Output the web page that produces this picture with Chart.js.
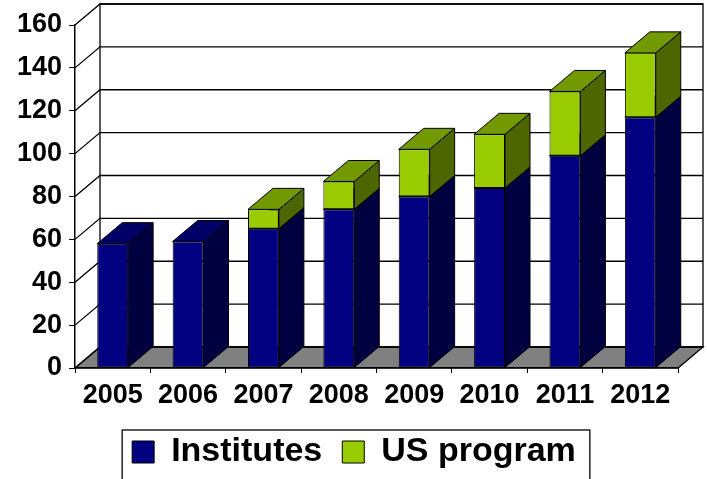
<!DOCTYPE html>
<html lang="en">
<head>
  <meta charset="UTF-8">
  <style>
    body {
      margin: 0;
      background-color: #fff;
    }
    .chart-container {
      width: 707px;
      height: 479px;
    }
  </style>
</head>
<body>
  <div class="chart-container">
    <canvas id="myChart"></canvas>
  </div>

  <script src="https://cdn.jsdelivr.net/npm/chart.js"></script>
  <script>
    // Data
    const years = ["2005", "2006", "2007", "2008", "2009", "2010", "2011", "2012"];
    const institutes = [58, 59, 65, 74, 80, 84, 99, 117];
    const usProgram = [0, 0, 9, 13, 22, 25, 30, 30];
    const yTicks = [0, 20, 40, 60, 80, 100, 120, 140, 160];

    // 3D look: depth offset of the box and darker shades for side / top faces
    const DX = 25;
    const DY = -21;
    const shades = [
      { front: '#000080', side: '#000040', top: '#000066' },
      { front: '#99cc00', side: '#4d6600', top: '#739900' }
    ];

    function poly(ctx, pts, fill) {
      ctx.beginPath();
      ctx.moveTo(pts[0][0], pts[0][1]);
      for (let i = 1; i < pts.length; i++) ctx.lineTo(pts[i][0], pts[i][1]);
      ctx.closePath();
      if (fill) {
        ctx.fillStyle = fill;
        ctx.fill();
      }
      ctx.stroke();
    }

    // walls, floor and grid drawn behind everything
    const wallsPlugin = {
      id: 'walls',
      afterLayout(chart) {
        // legend sits a bit right of the canvas centre
        if (chart.legend) chart.legend.left += 30;
      },
      beforeDraw(chart) {
        const ctx = chart.ctx;
        const a = chart.chartArea;
        const y = chart.scales.y;
        ctx.save();
        ctx.strokeStyle = '#000';
        ctx.lineWidth = 1.3;
        // back wall
        poly(ctx, [[a.left + DX, a.top + DY], [a.right + DX, a.top + DY],
                   [a.right + DX, a.bottom + DY], [a.left + DX, a.bottom + DY]], '#fff');
        // floor
        poly(ctx, [[a.left, a.bottom], [a.right, a.bottom],
                   [a.right + DX, a.bottom + DY], [a.left + DX, a.bottom + DY]], '#808080');
        // grid lines on back and side wall
        yTicks.forEach(v => {
          const py = y.getPixelForValue(v);
          ctx.beginPath();
          ctx.moveTo(a.left, py);
          ctx.lineTo(a.left + DX, py + DY);
          ctx.lineTo(a.right + DX, py + DY);
          ctx.stroke();
        });
        ctx.restore();
      },
      beforeDatasetsDraw(chart) {
        const ctx = chart.ctx;
        ctx.save();
        ctx.strokeStyle = '#000';
        ctx.lineWidth = 1;
        chart.data.datasets.forEach((ds, di) => {
          const meta = chart.getDatasetMeta(di);
          meta.data.forEach(bar => {
            const p = bar.getProps(['x', 'y', 'base', 'width'], true);
            const x0 = p.x - p.width / 2;
            const x1 = p.x + p.width / 2;
            const top = Math.min(p.y, p.base);
            const bottom = Math.max(p.y, p.base);
            if (bottom - top < 0.5) return;
            poly(ctx, [[x1, top], [x1 + DX, top + DY], [x1 + DX, bottom + DY], [x1, bottom]], shades[di].side);
            poly(ctx, [[x0, top], [x0 + DX, top + DY], [x1 + DX, top + DY], [x1, top]], shades[di].top);
          });
        });
        ctx.restore();
      },
      afterDraw(chart) {
        // frame around the legend
        const lg = chart.legend;
        if (!lg || !lg.legendHitBoxes.length) return;
        const boxes = lg.legendHitBoxes;
        const left = Math.min(...boxes.map(b => b.left)) - 10;
        const right = Math.max(...boxes.map(b => b.left + b.width)) + 14;
        const ctx = chart.ctx;
        ctx.save();
        ctx.strokeStyle = '#000';
        ctx.lineWidth = 1.3;
        ctx.strokeRect(left, lg.top + 15, right - left, lg.bottom - lg.top);
        ctx.restore();
      }
    };

    const tickFont = { family: "'Liberation Sans', Arial, sans-serif", size: 27, weight: 'bold' };

    const ctx = document.getElementById('myChart').getContext('2d');
    const myChart = new Chart(ctx, {
      type: 'bar',
      data: {
        labels: years,
        datasets: [{
          label: 'Institutes',
          data: institutes,
          backgroundColor: shades[0].front,
          borderColor: '#000',
          borderWidth: 1,
          borderSkipped: false
        }, {
          label: 'US program',
          data: usProgram,
          backgroundColor: shades[1].front,
          borderColor: '#000',
          borderWidth: 1,
          borderSkipped: false
        }]
      },
      options: {
        responsive: true,
        maintainAspectRatio: false,
        animation: false,
        layout: {
          padding: { top: 25, right: 29, left: 0, bottom: 0 }
        },
        datasets: {
          bar: {
            categoryPercentage: 1,
            barPercentage: 0.41
          }
        },
        scales: {
          x: {
            stacked: true,
            grid: {
              drawOnChartArea: false,
              drawTicks: true,
              tickLength: 5,
              color: '#000'
            },
            border: { display: true, color: '#000', width: 1.3 },
            ticks: {
              color: '#000',
              font: tickFont,
              padding: 6,
              maxRotation: 0
            },
            afterFit(scale) {
              scale.height = 47;
            }
          },
          y: {
            stacked: true,
            min: 0,
            max: 160,
            grid: {
              drawOnChartArea: false,
              drawTicks: true,
              tickLength: 6,
              color: '#000'
            },
            border: { display: true, color: '#000', width: 1.5 },
            ticks: {
              stepSize: 20,
              color: '#000',
              font: tickFont,
              padding: 7
            },
            afterFit(scale) {
              scale.width = 75;
            }
          }
        },
        plugins: {
          legend: {
            display: true,
            position: 'bottom',
            labels: {
              color: '#000',
              boxWidth: 22,
              boxHeight: 22,
              padding: 20,
              font: { family: "'Liberation Sans', Arial, sans-serif", size: 34, weight: 'bold' }
            }
          },
          tooltip: {
            enabled: false
          }
        }
      },
      plugins: [wallsPlugin]
    });
  </script>
</body>
</html>
